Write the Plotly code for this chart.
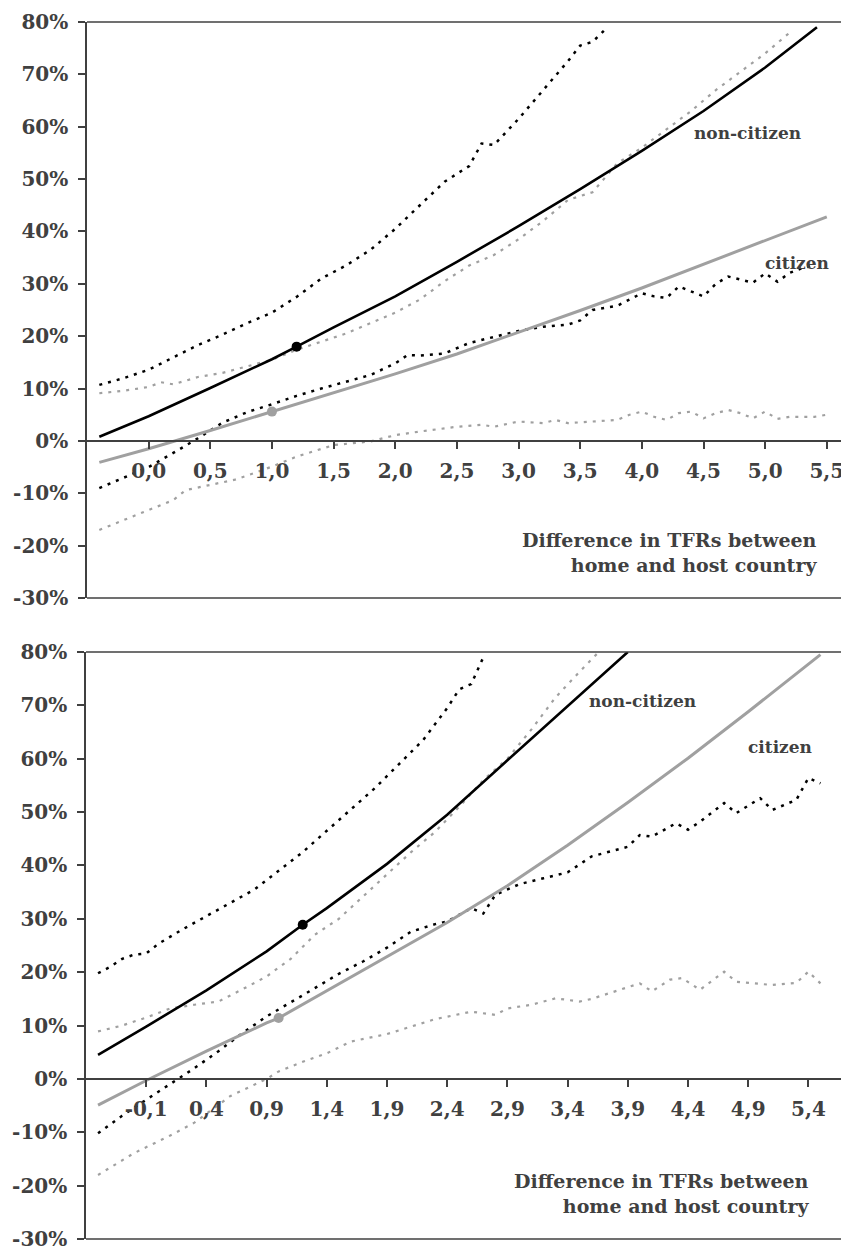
import plotly.graph_objects as go

# page is 849x1248, browser body has an 8px margin -> figure is offset by 8px
OFF = 8
W, H = 849 - OFF, 1248 - OFF

# ---------------- TOP PANEL DATA ----------------
top_xticks = [0.0, 0.5, 1.0, 1.5, 2.0, 2.5, 3.0, 3.5, 4.0, 4.5, 5.0, 5.5]
top_xlabels = ["0,0", "0,5", "1,0", "1,5", "2,0", "2,5", "3,0", "3,5", "4,0", "4,5", "5,0", "5,5"]

# non-citizen estimate (black solid)
t_nc_x = [-0.4, 0.0, 0.5, 1.0, 1.2, 1.5, 2.0, 2.5, 3.0, 3.5, 4.0, 4.5, 5.0, 5.42]
t_nc_y = [0.8, 4.7, 10.1, 15.6, 18.0, 21.7, 27.6, 34.2, 41.0, 48.1, 55.4, 63.0, 71.3, 79.0]
# non-citizen upper bound (black dotted)
t_ncu_x = [-0.4, -0.2, 0.0, 0.2, 0.4, 0.6, 0.8, 1.0, 1.2, 1.4, 1.6, 1.8, 2.0, 2.2, 2.4, 2.6, 2.7, 2.8, 2.9, 3.0, 3.2, 3.4, 3.5, 3.6, 3.7]
t_ncu_y = [10.7, 12.0, 13.6, 16.0, 18.3, 20.3, 22.5, 24.5, 27.5, 31.0, 33.5, 36.5, 40.5, 45.0, 49.5, 52.5, 56.8, 56.5, 59.0, 61.5, 67.0, 72.5, 75.5, 76.2, 78.5]
# non-citizen lower bound (black dotted)
t_ncl_x = [-0.4, -0.2, 0.0, 0.2, 0.4, 0.6, 0.8, 1.0, 1.2, 1.4, 1.6, 1.8, 2.0, 2.1, 2.2, 2.4, 2.6, 2.8, 3.0, 3.2, 3.4, 3.5, 3.6, 3.8, 4.0, 4.1, 4.2, 4.3, 4.5, 4.6, 4.7, 4.9, 5.0, 5.1, 5.2, 5.3, 5.4]
t_ncl_y = [-9.0, -7.0, -5.0, -2.3, 0.5, 3.5, 5.5, 7.0, 8.6, 10.0, 11.3, 12.6, 14.8, 16.4, 16.3, 16.7, 18.7, 19.8, 21.0, 21.8, 22.2, 23.0, 25.0, 25.8, 28.2, 27.6, 27.3, 29.5, 27.6, 30.0, 31.4, 30.2, 32.0, 30.4, 32.1, 33.0, 33.5]
# citizen estimate (grey solid)
t_c_x = [-0.4, 0.0, 0.5, 1.0, 1.5, 2.0, 2.5, 3.0, 3.5, 4.0, 4.5, 5.0, 5.5]
t_c_y = [-4.1, -1.5, 2.0, 5.6, 9.1, 12.8, 16.6, 20.7, 24.9, 29.2, 33.7, 38.2, 42.8]
# citizen upper bound (grey dotted)
t_cu_x = [-0.4, -0.2, 0.0, 0.1, 0.2, 0.4, 0.6, 0.8, 1.0, 1.2, 1.4, 1.6, 1.8, 2.0, 2.2, 2.4, 2.6, 2.8, 3.0, 3.2, 3.4, 3.5, 3.6, 3.8, 4.0, 4.2, 4.4, 4.6, 4.8, 5.0, 5.2]
t_cu_y = [9.1, 9.6, 10.3, 11.2, 10.8, 12.2, 13.0, 14.3, 15.5, 17.4, 19.0, 20.5, 22.5, 24.5, 27.0, 30.5, 33.5, 35.5, 38.5, 42.0, 46.0, 46.8, 47.5, 53.0, 56.0, 59.5, 63.0, 67.0, 70.5, 74.0, 78.0]
# citizen lower bound (grey dotted)
t_cl_x = [-0.4, -0.2, 0.0, 0.2, 0.3, 0.5, 0.7, 0.85, 1.0, 1.2, 1.5, 1.8, 2.0, 2.2, 2.5, 2.7, 2.8, 3.0, 3.2, 3.3, 3.4, 3.6, 3.8, 3.9, 4.0, 4.1, 4.2, 4.3, 4.4, 4.5, 4.6, 4.7, 4.8, 4.9, 5.0, 5.1, 5.2, 5.4, 5.5]
t_cl_y = [-17.0, -15.1, -13.2, -11.3, -9.4, -8.4, -7.4, -6.2, -4.9, -3.0, -0.8, -0.1, 1.1, 1.8, 2.7, 3.1, 2.7, 3.7, 3.4, 4.0, 3.4, 3.7, 4.0, 5.0, 5.6, 4.6, 4.0, 5.3, 5.6, 4.3, 5.3, 5.9, 5.3, 4.3, 5.6, 4.2, 4.6, 4.6, 5.0]
top_nc_mark = (1.2, 18.0)
top_c_mark = (1.0, 5.6)

# ---------------- BOTTOM PANEL DATA ----------------
bot_xticks = [-0.1, 0.4, 0.9, 1.4, 1.9, 2.4, 2.9, 3.4, 3.9, 4.4, 4.9, 5.4]
bot_xlabels = ["-0,1", "0,4", "0,9", "1,4", "1,9", "2,4", "2,9", "3,4", "3,9", "4,4", "4,9", "5,4"]

b_nc_x = [-0.5, -0.1, 0.4, 0.9, 1.2, 1.4, 1.9, 2.4, 2.9, 3.4, 3.9]
b_nc_y = [4.5, 9.8, 16.6, 23.9, 28.9, 32.0, 40.3, 49.5, 59.7, 69.8, 80.0]
b_ncu_x = [-0.5, -0.4, -0.3, -0.2, -0.1, 0.0, 0.2, 0.4, 0.6, 0.8, 1.0, 1.2, 1.4, 1.6, 1.8, 2.0, 2.2, 2.4, 2.5, 2.6, 2.7]
b_ncu_y = [19.8, 21.0, 22.5, 23.3, 23.5, 25.3, 28.0, 30.5, 33.0, 35.5, 39.0, 42.5, 46.5, 50.5, 54.5, 59.0, 63.5, 69.5, 73.0, 74.0, 79.0]
b_ncl_x = [-0.5, -0.3, -0.1, 0.1, 0.3, 0.5, 0.7, 0.9, 1.1, 1.3, 1.5, 1.7, 1.9, 2.1, 2.3, 2.4, 2.6, 2.7, 2.8, 3.0, 3.2, 3.4, 3.6, 3.8, 3.9, 4.0, 4.1, 4.3, 4.4, 4.5, 4.7, 4.8, 5.0, 5.1, 5.3, 5.4, 5.5]
b_ncl_y = [-10.2, -6.9, -3.9, -1.0, 2.0, 5.2, 8.6, 11.7, 14.3, 17.0, 19.7, 22.0, 24.6, 27.6, 29.0, 29.5, 32.0, 31.0, 34.5, 36.5, 37.6, 38.7, 41.7, 42.9, 43.5, 45.7, 45.4, 47.9, 46.7, 48.2, 51.7, 49.8, 52.6, 50.4, 52.3, 56.4, 55.4]
b_c_x = [-0.5, -0.1, 0.4, 0.9, 1.0, 1.4, 1.9, 2.4, 2.9, 3.4, 3.9, 4.4, 4.9, 5.5]
b_c_y = [-4.9, -0.3, 5.2, 10.5, 11.4, 16.5, 22.8, 29.3, 36.2, 43.8, 51.8, 60.1, 68.8, 79.5]
b_cu_x = [-0.5, -0.3, -0.1, 0.1, 0.3, 0.5, 0.7, 0.9, 1.1, 1.3, 1.5, 1.7, 1.9, 2.1, 2.3, 2.5, 2.7, 2.9, 3.1, 3.3, 3.5, 3.65]
b_cu_y = [8.9, 10.0, 11.5, 13.2, 13.9, 14.5, 16.8, 19.2, 22.5, 27.0, 30.0, 34.2, 38.3, 42.5, 46.3, 51.0, 56.0, 60.0, 65.5, 71.5, 76.3, 79.8]
b_cl_x = [-0.5, -0.2, 0.1, 0.3, 0.6, 0.9, 1.0, 1.2, 1.4, 1.6, 1.9, 2.1, 2.3, 2.6, 2.8, 2.9, 3.1, 3.3, 3.5, 3.6, 3.8, 4.0, 4.1, 4.25, 4.35, 4.5, 4.7, 4.8, 5.1, 5.3, 5.4, 5.5]
b_cl_y = [-18.0, -13.9, -10.6, -8.2, -3.2, 0.0, 1.4, 3.2, 4.8, 7.0, 8.4, 9.8, 11.2, 12.6, 12.0, 13.2, 13.9, 15.1, 14.5, 15.0, 16.4, 17.9, 16.4, 18.6, 18.9, 16.7, 20.1, 18.2, 17.6, 18.0, 20.1, 17.9]
bot_nc_mark = (1.2, 28.9)
bot_c_mark = (1.0, 11.4)

y_ticks = [-30, -20, -10, 0, 10, 20, 30, 40, 50, 60, 70, 80]
y_labels = ["-30%", "-20%", "-10%", "0%", "10%", "20%", "30%", "40%", "50%", "60%", "70%", "80%"]

# ---------------- STYLE ----------------
BLACK = "#000000"
GREY = "#a0a0a0"
AX = "#404040"
FONT = "DejaVu Serif"
TICKFONT = dict(family=FONT, size=20, color=AX, weight="bold")
DOT = "3px,6px"

fig = go.Figure()


def add_panel(xa, ya, nc, ncu, ncl, c, cu, cl, ncm, cm):
    kw = dict(xaxis=xa, yaxis=ya, showlegend=False, hoverinfo="skip")
    fig.add_trace(go.Scatter(x=cl[0], y=cl[1], mode="lines",
                             line=dict(color=GREY, width=2.2, dash=DOT), **kw))
    fig.add_trace(go.Scatter(x=cu[0], y=cu[1], mode="lines",
                             line=dict(color=GREY, width=2.2, dash=DOT), **kw))
    fig.add_trace(go.Scatter(x=ncl[0], y=ncl[1], mode="lines",
                             line=dict(color=BLACK, width=2.5, dash=DOT), **kw))
    fig.add_trace(go.Scatter(x=ncu[0], y=ncu[1], mode="lines",
                             line=dict(color=BLACK, width=2.5, dash=DOT), **kw))
    fig.add_trace(go.Scatter(x=c[0], y=c[1], mode="lines",
                             line=dict(color=GREY, width=3), **kw))
    fig.add_trace(go.Scatter(x=nc[0], y=nc[1], mode="lines",
                             line=dict(color=BLACK, width=2.6), **kw))
    fig.add_trace(go.Scatter(x=[cm[0]], y=[cm[1]], mode="markers",
                             marker=dict(color=GREY, size=10), **kw))
    fig.add_trace(go.Scatter(x=[ncm[0]], y=[ncm[1]], mode="markers",
                             marker=dict(color=BLACK, size=10), **kw))


add_panel("x", "y", (t_nc_x, t_nc_y), (t_ncu_x, t_ncu_y), (t_ncl_x, t_ncl_y),
          (t_c_x, t_c_y), (t_cu_x, t_cu_y), (t_cl_x, t_cl_y), top_nc_mark, top_c_mark)
add_panel("x2", "y2", (b_nc_x, b_nc_y), (b_ncu_x, b_ncu_y), (b_ncl_x, b_ncl_y),
          (b_c_x, b_c_y), (b_cu_x, b_cu_y), (b_cl_x, b_cl_y), bot_nc_mark, bot_c_mark)

# panel geometry (page pixels)
top_px = dict(l=87, r=849, t=22, b=598)
bot_px = dict(l=86, r=845, t=652, b=1239)
YR = [-30, 80]


def dom(p):
    return ([(p["l"] - OFF) / W, (p["r"] - OFF) / W],
            [1 - (p["b"] - OFF) / H, 1 - (p["t"] - OFF) / H])


txd, tyd = dom(top_px)
bxd, byd = dom(bot_px)


def zero_pos(yd):
    return yd[0] + (0 - YR[0]) / (YR[1] - YR[0]) * (yd[1] - yd[0])


top_xr = [-0.5, -0.5 + (top_px["r"] - top_px["l"]) / 123.3]
bot_xr = [-0.6, -0.6 + (bot_px["r"] - bot_px["l"]) / 120.4]

xcommon = dict(showline=True, linecolor=AX, linewidth=1.5, ticks="outside", ticklen=7,
               tickwidth=1.5, tickcolor=AX, tickfont=TICKFONT, showgrid=False,
               zeroline=False, anchor="free", automargin=False, fixedrange=True,
               ticklabelstandoff=5, ticklabeloverflow="allow")
ycommon = dict(showline=True, linecolor=AX, linewidth=1.5, ticks="outside", ticklen=7,
               tickwidth=1.5, tickcolor=AX, tickfont=TICKFONT, showgrid=False,
               zeroline=False, range=YR, tickvals=y_ticks, ticktext=y_labels,
               automargin=False, fixedrange=True, ticklabelstandoff=6,
               ticklabeloverflow="allow")

fig.update_layout(
    width=W, height=H, margin=dict(l=0, r=0, t=0, b=0),
    paper_bgcolor="white", plot_bgcolor="white",
    xaxis=dict(domain=txd, range=top_xr, position=zero_pos(tyd),
               tickvals=top_xticks, ticktext=top_xlabels, **xcommon),
    yaxis=dict(domain=tyd, anchor="x", **ycommon),
    xaxis2=dict(domain=bxd, range=bot_xr, position=zero_pos(byd),
                tickvals=bot_xticks, ticktext=bot_xlabels, **xcommon),
    yaxis2=dict(domain=byd, anchor="x2", **ycommon),
)

# frame lines
frame = dict(type="line", line=dict(color=AX, width=1.5))
for xr_, yr_ in (("x domain", "y domain"), ("x2 domain", "y2 domain")):
    fig.add_shape(x0=0, x1=1, y0=1, y1=1, xref=xr_, yref=yr_, **frame)
    fig.add_shape(x0=0, x1=1, y0=0, y1=0, xref=xr_, yref=yr_, **frame)
fig.add_shape(x0=1, x1=1, y0=0, y1=1, xref="x2 domain", yref="y2 domain", **frame)

# text labels
LBL = dict(family=FONT, size=17, color=AX, weight="bold")
TTL = dict(family=FONT, size=19, color=AX, weight="bold")


def ann(text, px, py, font, xanchor="left", align="left"):
    fig.add_annotation(text=text, x=(px - OFF) / W, y=1 - (py - OFF) / H,
                       xref="paper", yref="paper", xanchor=xanchor, yanchor="middle",
                       showarrow=False, font=font, align=align)


ann("non-citizen", 692, 133, LBL)
ann("citizen", 763, 263, LBL)
ann("Difference in TFRs between<br>home and host country", 819, 553, TTL,
    xanchor="right", align="right")
ann("non-citizen", 587, 701, LBL)
ann("citizen", 746, 747, LBL)
ann("Difference in TFRs between<br>home and host country", 811, 1193, TTL,
    xanchor="right", align="right")

fig.write_html("out.html")
